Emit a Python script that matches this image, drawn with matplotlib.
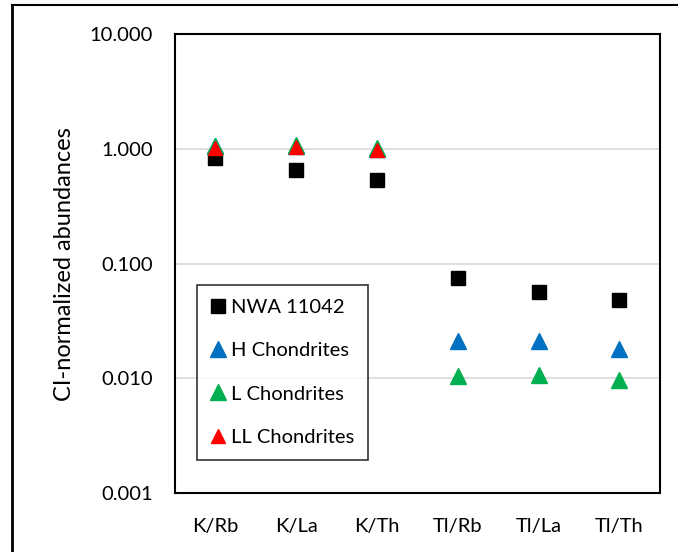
import numpy as np
import matplotlib

matplotlib.use('Agg')
import matplotlib.pyplot as plt
from matplotlib.lines import Line2D
from matplotlib.ticker import FixedLocator, FixedFormatter, NullLocator

plt.rcParams['font.family'] = ['Lato', 'DejaVu Sans']

ratios = ['K/Rb', 'K/La', 'K/Th', 'Tl/Rb', 'Tl/La', 'Tl/Th']
nwa = [0.84, 0.655, 0.54, 0.075, 0.057, 0.048]
h_chond = [1.05, 1.06, 0.99, 0.021, 0.021, 0.018]
l_chond = [1.07, 1.09, 1.01, 0.0104, 0.0106, 0.0096]
ll_chond = [1.02, 1.04, 0.97, np.nan, np.nan, np.nan]

yticks = [0.001, 0.01, 0.1, 1, 10]
ytick_labels = ['0.001', '0.010', '0.100', '1.000', '10.000']

fig = plt.figure(figsize=(6.78, 5.52), dpi=100)
ax = fig.add_axes([0.258, 0.107, 0.715, 0.831])

# partial border of the original cropped chart area (top and left only)
W, H = 678, 552
fig.add_artist(Line2D([12 / W, 12 / W], [0, 1 - 5 / H], color='black', lw=2,
                      transform=fig.transFigure))
fig.add_artist(Line2D([12 / W, 1], [1 - 5 / H, 1 - 5 / H], color='black', lw=1.5,
                      transform=fig.transFigure))

x = np.arange(len(ratios))
ax.plot(x, nwa, 's', color='black', markersize=10.5, label='NWA 11042', zorder=3)
ax.plot(x, h_chond, '^', color='#0070C0', markersize=11, label='H Chondrites', zorder=3)
ax.plot(x, l_chond, '^', color='#00B050', markersize=12, label='L Chondrites', zorder=4)
ax.plot(x, ll_chond, '^', color='#FF0000', markersize=10, label='LL Chondrites', zorder=5)

ax.set_yscale('log')
ax.set_ylim(0.001, 10)
ax.set_xlim(-0.5, len(ratios) - 0.5)
ax.yaxis.set_major_locator(FixedLocator(yticks))
ax.yaxis.set_major_formatter(FixedFormatter(ytick_labels))
ax.yaxis.set_minor_locator(NullLocator())
ax.set_xticks(x)
ax.set_xticklabels(ratios)
ax.tick_params(axis='both', length=0, labelsize=14.5)
ax.tick_params(axis='x', pad=18)
ax.tick_params(axis='y', pad=16)
ax.grid(axis='y', color='#d9d9d9', linewidth=1.2, zorder=0)
ax.set_axisbelow(True)
for s in ax.spines.values():
    s.set_linewidth(1.5)
    s.set_color('black')

ax.set_ylabel('CI-normalized abundances', fontsize=17, labelpad=10)

leg = ax.legend(loc='lower left', bbox_to_anchor=(0.045, 0.072), borderaxespad=0,
                fontsize=14.5, frameon=True, fancybox=False, edgecolor='black',
                handlelength=0.7, handletextpad=0.3, labelspacing=1.3,
                borderpad=0.7, numpoints=1)
leg.get_frame().set_linewidth(1.2)

fig.savefig('out.png', dpi=100)
